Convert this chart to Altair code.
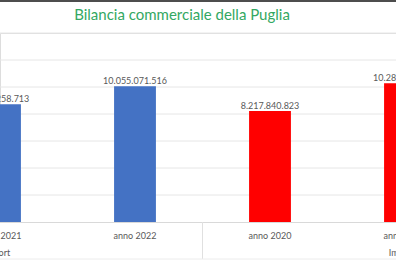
import altair as alt
import pandas as pd

TITLE = ["Bilancia commerciale della Puglia"]

# categories (two-level axis: group | year)
groups = ["Export", "Export", "Export", "Import", "Import", "Import"]
years = ["anno 2020", "anno 2021", "anno 2022", "anno 2020", "anno 2021", "anno 2022"]
keys = [f"{g}|{y}" for g, y in zip(groups, years)]

# visible bars only (the reference is a crop of a wider chart)
bar_groups = ["Export", "Export", "Import", "Import"]
bar_years = ["anno 2021", "anno 2022", "anno 2020", "anno 2021"]
bar_values = [8714258713, 10055071516, 8217840823, 10283415622]

group_names = ["Export", "Import"]
group_mid = ["Export|anno 2021", "Import|anno 2021"]
separators = ["Export|anno 2022"]
grid_values = [2e9, 4e9, 6e9, 8e9, 10e9, 12e9, 14e9]

bars = pd.DataFrame({
    "key": [f"{g}|{y}" for g, y in zip(bar_groups, bar_years)],
    "group": bar_groups,
    "value": bar_values,
    "label": [f"{v:,}".replace(",", ".") for v in bar_values],
})
grp = pd.DataFrame({"key": group_mid, "name": group_names})
sep = pd.DataFrame({"key": separators})
grid = pd.DataFrame({"v": grid_values})
ttl = pd.DataFrame({"t": TITLE})

FONT = "Lato"
TXT = "#595959"
H = 189

xscale = alt.Scale(domain=keys, range=[-202.5, 607.5], paddingInner=0, paddingOuter=0)
yscale = alt.Scale(domain=[0, 14e9])

base = alt.Chart(bars)

gridlines = alt.Chart(grid).mark_rule(color="#e6e6e6", strokeWidth=1).encode(
    y=alt.Y("v:Q", scale=yscale, axis=None),
    x=alt.value(-3), x2=alt.value(400),
)

bar = base.mark_bar(width=alt.RelativeBandSize(0.31)).encode(
    x=alt.X("key:N", scale=xscale, sort=keys,
            axis=alt.Axis(title=None, labelExpr="split(datum.value, '|')[1]",
                          labelAngle=0, ticks=False, domainColor="#d9d9d9",
                          labelFont=FONT, labelFontSize=9, labelColor=TXT,
                          labelPadding=9, grid=False, labelOverlap=False)),
    y=alt.Y("value:Q", scale=yscale, axis=None),
    color=alt.Color("group:N", scale=alt.Scale(domain=["Export", "Import"],
                                               range=["#4472C4", "#FF0000"]), legend=None),
)

labels = base.mark_text(baseline="bottom", dy=0, font=FONT, fontSize=9, color=TXT).encode(
    x=alt.X("key:N", scale=xscale, sort=keys),
    y=alt.Y("value:Q", scale=yscale),
    text="label:N",
)

glabels = alt.Chart(grp).mark_text(baseline="middle", font=FONT, fontSize=9, color=TXT, dx=-3).encode(
    x=alt.X("key:N", scale=xscale, sort=keys),
    y=alt.value(H + 31),
    text="name:N",
)

seprule = alt.Chart(sep).mark_rule(color="#e0e0e0", strokeWidth=1).encode(
    x=alt.X("key:N", scale=xscale, sort=keys, bandPosition=1),
    y=alt.value(H),
    y2=alt.value(H + 37),
)

bottom = alt.Chart(sep).mark_rule(color="#ececec", strokeWidth=1).encode(
    x=alt.value(-3), x2=alt.value(400), y=alt.value(H + 37), y2=alt.value(H + 37),
)

topborder = alt.Chart(sep).mark_rule(color="#4d4d4d", strokeWidth=2).encode(
    x=alt.value(-3), x2=alt.value(400), y=alt.value(-32), y2=alt.value(-32),
)

title = alt.Chart(ttl).mark_text(font=FONT, fontSize=15, color="#33a862",
                                 baseline="middle", align="center").encode(
    x=alt.value(182), y=alt.value(-18), text="t:N",
)

chart = alt.layer(gridlines, bar, labels, glabels, seprule, bottom, topborder, title).properties(
    width=396, height=H,
    autosize=alt.AutoSizeParams(type="none"),
    padding={"left": 0, "right": 0, "top": 33, "bottom": 39},
).configure_view(stroke="transparent", strokeWidth=0).configure(background="white")

chart.save("out.html", embed_options={"renderer": "svg", "actions": False})
